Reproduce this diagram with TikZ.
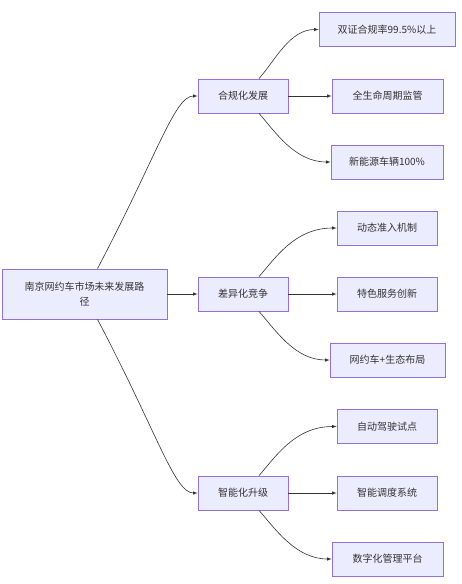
\documentclass[tikz,border=0pt]{standalone}
\usepackage{fontspec}
\setmainfont{Noto Sans CJK SC}
\usetikzlibrary{arrows.meta}
\definecolor{boxfill}{HTML}{ECECFF}
\definecolor{boxline}{HTML}{9370DB}
\definecolor{ink}{HTML}{333333}
\tikzset{box/.style={rectangle,draw=boxline,fill=boxfill,line width=0.8pt,
  minimum height=34pt,inner sep=2pt,text=ink,font=\fontsize{10}{15}\selectfont}}

\begin{document}
\begin{tikzpicture}[>=latex,x=1pt,y=-1pt]
\useasboundingbox (0,0) rectangle (461,584);

\node[box,minimum width=165pt,minimum height=50pt,align=center] (root) at (84.5,294) {南京网约车市场未来发展路\\径};
\node[box,minimum width=90pt] (comp) at (243,96) {合规化发展};
\node[box,minimum width=90pt] (diff) at (243,294) {差异化竞争};
\node[box,minimum width=90pt] (smart) at (243,493) {智能化升级};

\node[box,minimum width=136pt] (comp1) at (387,29.5) {双证合规率99.5\%以上};
\node[box,minimum width=111pt] (comp2) at (387.5,96) {全生命周期监管};
\node[box,minimum width=112pt] (comp3) at (387,162) {新能源车辆100\%};
\node[box,minimum width=100pt] (diff1) at (387,228) {动态准入机制};
\node[box,minimum width=100pt] (diff2) at (387,294) {特色服务创新};
\node[box,minimum width=115pt] (diff3) at (387.5,360) {网约车+生态布局};
\node[box,minimum width=100pt] (smart1) at (387,426.5) {自动驾驶试点};
\node[box,minimum width=100pt] (smart2) at (387,493) {智能调度系统};
\node[box,minimum width=111pt] (smart3) at (387.5,559) {数字化管理平台};

\draw[->,ink,line width=0.6pt] ([xshift=13pt]root.north) .. controls +(60,-114) and +(-23,0) .. (comp.west);
\draw[->,ink,line width=0.6pt] (root) -- (diff);
\draw[->,ink,line width=0.6pt] ([xshift=13pt]root.south) .. controls +(60,114) and +(-23,0) .. (smart.west);

\draw[->,ink,line width=0.6pt] ([xshift=16pt]comp.north) .. controls +(16,-18) and +(-29,0) .. (comp1.west);
\draw[->,ink,line width=0.6pt] (comp) -- (comp2);
\draw[->,ink,line width=0.6pt] ([xshift=16pt]comp.south) .. controls +(16,18) and +(-36,0) .. (comp3.west);
\draw[->,ink,line width=0.6pt] ([xshift=16pt]diff.north) .. controls +(16,-18) and +(-42,0) .. (diff1.west);
\draw[->,ink,line width=0.6pt] (diff) -- (diff2);
\draw[->,ink,line width=0.6pt] ([xshift=16pt]diff.south) .. controls +(16,18) and +(-35,0) .. (diff3.west);
\draw[->,ink,line width=0.6pt] ([xshift=16pt]smart.north) .. controls +(16,-18) and +(-42,0) .. (smart1.west);
\draw[->,ink,line width=0.6pt] (smart) -- (smart2);
\draw[->,ink,line width=0.6pt] ([xshift=16pt]smart.south) .. controls +(16,18) and +(-36,0) .. (smart3.west);

\end{tikzpicture}
\end{document}
